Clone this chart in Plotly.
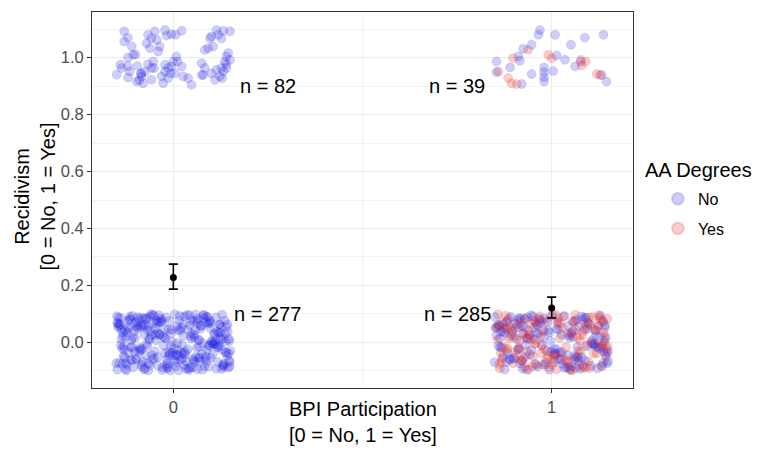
import plotly.graph_objects as go

# ---------------- data ----------------
# Top-left cluster: BPI = 0, Recidivism = 1, AA Degree = No (n = 82)
TL_X = [-0.13, -0.12, -0.13, -0.11, -0.10, -0.12, -0.14, -0.12, -0.15, -0.12,
        -0.095, -0.085, -0.09, -0.08, -0.067, -0.058, -0.053, -0.044, -0.049, -0.022,
        -0.018, -0.005, 0.006, 0.022, -0.036, -0.04, -0.062, -0.071, -0.031, -0.022,
        -0.014, -0.005, 0.008, 0.022, 0.004, 0.026, 0.039, 0.048, -0.084, -0.097,
        -0.027, -0.014, 0.075, 0.083, 0.079, 0.101, 0.11, 0.114, 0.123, 0.132,
        0.14, 0.145, 0.15, 0.14, 0.136, 0.097, 0.114, 0.127, 0.132, 0.15,
        0.105, 0.092, 0.083, 0.101, 0.119, 0.14, -0.067, -0.058, -0.051, -0.007,
        -0.022, -0.106, -0.115, -0.137, -0.075, 0.0, -0.086, 0.011, 0.075, 0.127,
        0.129, -0.058]
TL_Y = [1.092, 1.07, 1.056, 1.039, 1.01, 1.0, 0.975, 0.97, 0.94, 0.93,
        0.97, 0.945, 0.92, 0.91, 0.977, 0.963, 0.986, 1.062, 1.092, 1.097,
        1.077, 1.082, 1.08, 1.094, 1.039, 1.021, 1.033, 1.05, 0.934, 0.951,
        0.963, 0.969, 1.004, 0.969, 0.945, 0.934, 0.928, 0.904, 0.934, 0.916,
        0.91, 0.928, 0.98, 0.963, 0.939, 0.945, 0.922, 0.957, 0.934, 0.951,
        0.977, 1.016, 0.992, 0.963, 0.986, 1.068, 1.097, 1.068, 1.094, 1.092,
        1.039, 1.033, 1.027, 1.074, 1.08, 1.004, 1.08, 1.068, 0.963, 0.945,
        0.975, 1.01, 0.951, 0.963, 0.951, 0.986, 0.942, 0.986, 0.939, 0.963,
        0.928, 0.922]

# Top-right cluster: BPI = 1, Recidivism = 1 (n = 39)
TR_NO_X = [0.969, 0.965, 1.009, 1.088, 1.137, 1.051, 0.925, 0.947, 0.912, 0.916,
           0.854, 0.89, 1.013, 1.035, 1.062, 0.98, 0.98, 0.98, 0.98, 1.004,
           0.947, 0.921, 0.854, 1.132, 1.145, 1.077]
TR_NO_Y = [1.097, 1.08, 1.08, 1.07, 1.08, 1.045, 1.031, 1.045, 1.004, 0.989,
           0.986, 0.965, 1.007, 0.992, 0.969, 0.965, 0.949, 0.931, 0.916, 0.953,
           0.942, 0.907, 0.949, 0.939, 0.916, 0.986]
TR_YES_X = [0.898, 0.938, 0.991, 1.0, 1.077, 1.09, 1.079, 1.119, 1.128, 0.885,
            0.894, 0.907, 0.859]
TR_YES_Y = [0.998, 1.027, 1.01, 0.998, 0.992, 0.986, 0.972, 0.942, 0.939, 0.928,
            0.91, 0.907, 0.951]

# Bottom-left cluster: BPI = 0, Recidivism = 0, AA Degree = No (n = 277)
BL_X = [-0.142, 0.031, -0.083, 0.114, -0.021, 0.072, -0.126, 0.138, -0.052, 0.012, -0.104, 0.093, -0.034, 0.121, -0.067, 0.054, -0.133, 0.004, 0.085, -0.111,
        0.131, -0.043, 0.062, -0.092, 0.024, -0.148, 0.103, -0.013, 0.041, -0.061, 0.147, -0.118, 0.074, -0.028, 0.109, -0.081, 0.016, -0.139, 0.097, -0.049,
        0.036, -0.099, 0.124, -0.017, 0.058, -0.131, 0.081, -0.072, 0.143, -0.008, 0.049, -0.113, 0.101, -0.039, 0.022, -0.094, 0.134, -0.058, 0.002, -0.146,
        0.112, -0.031, 0.069, -0.122, 0.044, -0.079, 0.151, -0.054, 0.088, -0.137, 0.009, -0.101, 0.118, -0.024, 0.063, -0.071, 0.139, -0.107, 0.028, -0.044,
        -0.128, 0.077, -0.011, 0.127, -0.087, 0.019, -0.149, 0.094, -0.036, 0.052, -0.116, 0.142, -0.063, 0.006, -0.096, 0.107, -0.019, 0.067, -0.134, 0.039,
        0.149, -0.076, 0.027, -0.108, 0.082, -0.047, 0.117, -0.141, 0.059, -0.003, 0.136, -0.089, 0.013, -0.124, 0.098, -0.057, 0.046, -0.017, 0.129, -0.069,
        -0.033, 0.106, -0.144, 0.071, -0.006, 0.033, -0.119, 0.146, -0.064, 0.087, -0.098, 0.018, -0.041, 0.123, -0.136, 0.056, -0.077, 0.096, -0.012, 0.065,
        0.008, -0.121, 0.133, -0.046, 0.079, -0.086, 0.043, -0.151, 0.116, -0.026, 0.061, -0.109, 0.026, -0.066, 0.141, -0.002, 0.091, -0.129, 0.047, -0.084,
        0.119, -0.014, -0.097, 0.068, -0.138, 0.034, -0.059, 0.104, -0.023, 0.149, -0.074, 0.011, -0.114, 0.084, -0.048, 0.128, -0.093, 0.038, -0.145, 0.057,
        -0.007, 0.092, -0.132, 0.017, -0.062, 0.144, -0.103, 0.053, -0.029, 0.111, -0.082, 0.003, -0.125, 0.076, -0.038, 0.132, -0.068, 0.023, -0.147, 0.099,
        0.048, -0.091, 0.126, -0.016, 0.073, -0.112, 0.029, -0.056, 0.137, -0.135, 0.064, -0.001, 0.102, -0.078, 0.014, -0.117, 0.089, -0.044, 0.148, -0.027,
        -0.106, 0.037, -0.071, 0.122, -0.009, 0.081, -0.143, 0.055, -0.051, 0.113, -0.088, 0.021, -0.127, 0.069, -0.032, 0.139, -0.095, 0.007, -0.061, 0.094,
        0.126, -0.123, 0.042, -0.083, 0.108, -0.018, 0.066, -0.139, 0.015, -0.053, 0.145, -0.101, 0.032, -0.072, 0.117, -0.004, 0.078, -0.115, 0.051, -0.037,
        -0.148, 0.086, -0.022, 0.131, -0.066, 0.01, -0.109, 0.059, -0.042, 0.124, -0.084, 0.027, -0.13, 0.097, -0.012, 0.148, -0.075]
BL_Y = [0.062, -0.041, 0.087, -0.093, 0.015, 0.048, -0.072, 0.003, 0.094, -0.027, 0.039, -0.085, 0.071, -0.012, 0.056, -0.064, 0.022, 0.099, -0.049, 0.008,
        -0.078, 0.033, -0.019, 0.082, -0.056, 0.067, -0.004, 0.045, -0.097, 0.091, 0.012, -0.036, 0.059, -0.088, 0.028, -0.068, 0.076, -0.009, 0.051, -0.031,
        0.096, -0.058, 0.019, -0.081, 0.043, -0.014, 0.084, -0.046, 0.064, -0.099, 0.031, -0.061, 0.005, 0.073, -0.038, 0.089, -0.075, 0.025, -0.022, 0.054,
        -0.007, 0.079, -0.052, 0.036, -0.089, 0.061, -0.029, 0.098, -0.066, 0.011, -0.043, 0.069, -0.016, 0.047, -0.094, 0.086, -0.034, 0.018, -0.079, 0.066,
        0.041, -0.096, 0.074, -0.024, 0.057, -0.062, 0.092, -0.011, 0.029, -0.087, 0.081, -0.047, 0.014, -0.071, 0.053, -0.003, 0.088, -0.055, 0.035, -0.091,
        -0.069, 0.027, -0.037, 0.093, -0.083, 0.049, -0.018, 0.065, -0.051, 0.002, 0.077, -0.026, 0.044, -0.098, 0.068, -0.045, 0.021, -0.074, 0.097, -0.013,
        0.085, -0.006, 0.058, -0.067, 0.032, -0.092, 0.075, -0.039, 0.009, 0.091, -0.059, 0.042, -0.081, 0.063, -0.021, 0.017, -0.095, 0.072, -0.033, 0.083,
        -0.044, 0.052, -0.086, 0.007, 0.094, -0.028, 0.061, -0.073, 0.038, -0.011, 0.078, -0.063, 0.024, -0.099, 0.055, -0.035, 0.089, -0.053, 0.013, -0.077,
        0.034, -0.088, 0.071, -0.015, 0.046, -0.066, 0.099, -0.042, 0.016, -0.084, 0.062, -0.002, 0.081, -0.057, 0.027, -0.093, 0.048, -0.024, 0.087, -0.069,
        -0.012, 0.066, -0.048, 0.093, -0.079, 0.037, -0.031, 0.074, -0.097, 0.004, 0.056, -0.065, 0.019, -0.039, 0.095, -0.082, 0.043, -0.008, 0.069, -0.054,
        0.079, -0.034, 0.011, -0.091, 0.058, -0.017, 0.092, -0.061, 0.031, -0.076, 0.067, -0.045, 0.002, 0.084, -0.098, 0.049, -0.027, 0.076, -0.064, 0.021,
        -0.087, 0.045, -0.005, 0.063, -0.041, 0.097, -0.072, 0.026, -0.056, 0.088, -0.019, 0.051, -0.094, 0.009, 0.073, -0.036, 0.059, -0.083, 0.039, -0.012,
        0.054, -0.079, 0.096, -0.022, 0.033, -0.061, 0.007, 0.086, -0.048, 0.068, -0.089, 0.015, -0.032, 0.082, -0.069, 0.044, -0.003, 0.091, -0.058, 0.028,
        -0.095, 0.071, -0.037, 0.013, -0.074, 0.057, -0.015, 0.098, -0.051, 0.035, -0.085, 0.064, -0.025, 0.077, -0.046, 0.005, -0.091]

# Bottom-right cluster: BPI = 1, Recidivism = 0 (n = 285)
BR_NO_X = [0.862, 1.043, 0.917, 1.121, 0.978, 1.087, 0.881, 1.139, 0.951, 1.012, 0.896, 1.104, 0.969, 1.132, 0.928, 1.061, 0.854, 1.003, 1.079, 0.907,
           1.146, 0.957, 1.068, 0.911, 1.024, 0.871, 1.113, 0.991, 1.049, 0.936, 1.143, 0.884, 1.072, 0.963, 1.117, 0.922, 1.016, 0.859, 1.095, 0.947,
           1.034, 0.899, 1.128, 0.983, 1.056, 0.868, 1.083, 0.931, 1.141, 0.994, 1.052, 0.889, 1.107, 0.958, 1.021, 0.914, 1.136, 0.941, 1.006, 0.852,
           1.114, 0.972, 1.067, 0.876, 1.046, 0.924, 1.149, 0.946, 1.088, 0.863, 1.011, 0.903, 1.124, 0.977, 1.064, 0.928, 1.137, 0.892, 1.029, 0.961,
           0.871, 1.076, 0.989, 1.127, 0.913, 1.019, 0.851, 1.094, 0.964, 1.053, 0.884, 1.142, 0.937, 1.007, 0.904, 1.108, 0.981, 1.068, 0.866, 1.039,
           1.149, 0.924, 1.027, 0.892, 1.082, 0.953, 1.117, 0.859, 1.059, 0.997, 1.136, 0.911, 1.013, 0.876, 1.098, 0.943, 1.046, 0.983, 1.129, 0.931,
           0.967, 1.106, 0.856, 1.071, 0.994, 1.033, 0.881, 1.146, 0.936, 1.087, 0.902, 1.018, 0.959, 1.123, 0.864, 1.056, 0.923, 1.096, 0.988, 1.065,
           1.008, 0.879, 1.133, 0.954, 1.079, 0.914, 1.043, 0.849, 1.116, 0.974, 1.061, 0.891, 1.026, 0.934, 1.141, 0.998, 1.091, 0.871, 1.047, 0.916]
BR_NO_Y = [0.058, -0.044, 0.083, -0.091, 0.018, 0.046, -0.069, 0.006, 0.091, -0.023, 0.037, -0.082, 0.068, -0.015, 0.053, -0.061, 0.025, 0.096, -0.052, 0.011,
           -0.074, 0.031, -0.016, 0.079, -0.059, 0.064, -0.007, 0.042, -0.094, 0.088, 0.015, -0.039, 0.056, -0.085, 0.025, -0.065, 0.073, -0.012, 0.048, -0.028,
           0.093, -0.055, 0.022, -0.078, 0.04, -0.017, 0.081, -0.049, 0.061, -0.096, 0.034, -0.058, 0.008, 0.07, -0.035, 0.086, -0.072, 0.028, -0.025, 0.051,
           -0.004, 0.076, -0.049, 0.033, -0.086, 0.058, -0.032, 0.095, -0.063, 0.014, -0.04, 0.066, -0.019, 0.044, -0.091, 0.083, -0.031, 0.021, -0.076, 0.063,
           0.038, -0.093, 0.071, -0.021, 0.054, -0.059, 0.089, -0.014, 0.032, -0.084, 0.078, -0.044, 0.017, -0.068, 0.05, -0.006, 0.085, -0.052, 0.038, -0.088,
           -0.066, 0.03, -0.034, 0.09, -0.08, 0.052, -0.015, 0.062, -0.048, 0.005, 0.074, -0.023, 0.047, -0.095, 0.065, -0.042, 0.024, -0.071, 0.094, -0.01,
           0.082, -0.003, 0.055, -0.064, 0.035, -0.089, 0.072, -0.036, 0.012, 0.088, -0.056, 0.045, -0.078, 0.06, -0.018, 0.02, -0.092, 0.069, -0.03, 0.08,
           -0.041, 0.049, -0.083, 0.01, 0.091, -0.025, 0.058, -0.07, 0.041, -0.008, 0.075, -0.06, 0.027, -0.096, 0.052, -0.032, 0.086, -0.05, 0.016, -0.074]
BR_YES_X = [0.921, 1.058, 0.874, 1.112, 0.993, 1.031, 0.857, 1.144, 0.948, 1.076, 0.896, 1.013, 0.966, 1.126, 0.883, 1.041, 0.932, 1.099, 1.004, 0.861,
            1.138, 0.976, 1.062, 0.909, 1.022, 0.869, 1.104, 0.952, 1.084, 0.938, 1.148, 0.887, 1.036, 0.971, 1.119, 0.917, 1.054, 0.853, 1.092, 0.998,
            1.009, 0.902, 1.131, 0.962, 1.071, 0.878, 1.044, 0.926, 1.139, 0.985, 1.063, 0.894, 1.101, 0.944, 1.017, 0.865, 1.123, 0.956, 1.081, 0.913,
            0.871, 1.089, 0.979, 1.134, 0.908, 1.026, 0.858, 1.097, 0.942, 1.049, 0.889, 1.145, 0.929, 1.004, 0.916, 1.111, 0.968, 1.073, 0.875, 1.038,
            1.127, 0.935, 1.021, 0.898, 1.086, 0.957, 1.118, 0.863, 1.055, 0.991, 1.141, 0.919, 1.012, 0.882, 1.093, 0.949, 1.042, 0.974, 1.131, 0.926,
            0.972, 1.109, 0.861, 1.068, 0.987, 1.029, 0.884, 1.147, 0.939, 1.082, 0.906, 1.015, 0.955, 1.124, 0.867, 1.053, 0.928, 1.102, 0.981, 1.064,
            1.001, 0.886, 1.135, 0.951, 1.075]
BR_YES_Y = [-0.063, 0.072, -0.018, 0.044, -0.087, 0.091, 0.009, -0.051, 0.064, -0.033, 0.028, -0.094, 0.081, -0.007, 0.049, -0.071, 0.016, 0.088, -0.042, 0.059,
            0.035, -0.079, 0.097, -0.026, 0.067, -0.056, 0.003, 0.078, -0.089, 0.041, -0.014, 0.085, -0.061, 0.022, -0.038, 0.069, -0.098, 0.052, -0.01, 0.093,
            -0.047, 0.019, -0.083, 0.061, -0.029, 0.094, -0.066, 0.033, -0.004, 0.076, -0.053, 0.045, -0.091, 0.012, 0.084, -0.036, 0.057, -0.075, 0.026, -0.019,
            0.071, -0.088, 0.039, -0.011, 0.063, -0.045, 0.098, -0.068, 0.024, -0.097, 0.054, -0.023, 0.082, -0.059, 0.007, -0.039, 0.092, -0.081, 0.047, -0.016,
            0.087, -0.031, 0.015, -0.073, 0.066, -0.002, 0.043, -0.092, 0.074, -0.048, 0.021, -0.064, 0.096, -0.028, 0.058, -0.084, 0.031, -0.012, 0.079, -0.055,
            -0.037, 0.089, -0.076, 0.018, -0.058, 0.051, -0.021, 0.083, -0.095, 0.037, -0.043, 0.065, -0.006, 0.095, -0.069, 0.029, -0.086, 0.062, -0.025, 0.046,
            -0.078, 0.013, 0.073, -0.049, 0.006]

# Group means with error bars
BPI_GROUPS = [0, 1]
MEAN_RECID = [0.228, 0.121]
ERR_UPPER = [0.047, 0.038]
ERR_LOWER = [0.041, 0.035]

# Count labels
N_LABEL_X = [0.25, 0.75, 0.25, 0.75]
N_LABEL_Y = [0.9, 0.9, 0.1, 0.1]
N_LABELS = ["n = 82", "n = 39", "n = 277", "n = 285"]

# ---------------- figure ----------------
FONT = "Liberation Sans, Arial, Helvetica, sans-serif"
BLUE = "rgba(30,30,230,0.22)"
BLUE_LINE = "rgba(30,30,200,0.16)"
RED = "rgba(225,45,40,0.24)"
RED_LINE = "rgba(200,40,40,0.16)"
MS = 9

fig = go.Figure()

no_x = TL_X + BL_X + TR_NO_X + BR_NO_X
no_y = TL_Y + BL_Y + TR_NO_Y + BR_NO_Y
fig.add_trace(go.Scatter(
    x=no_x, y=no_y, mode="markers", name="No", legendgroup="no",
    marker=dict(size=MS, color=BLUE, line=dict(width=0.8, color=BLUE_LINE)),
))
fig.add_trace(go.Scatter(
    x=TR_YES_X + BR_YES_X, y=TR_YES_Y + BR_YES_Y, mode="markers", name="Yes", legendgroup="yes",
    marker=dict(size=MS, color=RED, line=dict(width=0.8, color=RED_LINE)),
))
fig.add_trace(go.Scatter(
    x=BPI_GROUPS, y=MEAN_RECID, mode="markers", showlegend=False,
    marker=dict(size=7, color="black"),
    error_y=dict(type="data", symmetric=False, array=ERR_UPPER, arrayminus=ERR_LOWER,
                 color="black", thickness=1.6, width=4.5),
))

for tx, ty, tt in zip(N_LABEL_X, N_LABEL_Y, N_LABELS):
    fig.add_annotation(x=tx, y=ty, text=tt, showarrow=False,
                       font=dict(family=FONT, size=20, color="black"))

# axis titles
fig.add_annotation(x=0.5, y=-0.09, xref="paper", yref="paper", yanchor="middle",
                   text="BPI Participation<br>[0 = No, 1 = Yes]", showarrow=False,
                   font=dict(family=FONT, size=20, color="black"))
fig.add_annotation(x=-0.105, y=0.51, xref="paper", yref="paper", xanchor="center",
                   text="Recidivism<br>[0 = No, 1 = Yes]", showarrow=False, textangle=-90,
                   font=dict(family=FONT, size=20, color="black"))
# legend title
fig.add_annotation(x=1.0185, y=0.58, xref="paper", yref="paper", xanchor="left", yanchor="middle",
                   text="AA Degrees", showarrow=False,
                   font=dict(family=FONT, size=20, color="black"))

axis_common = dict(
    showline=True, mirror=True, linecolor="#333333", linewidth=1,
    ticks="outside", ticklen=4, tickcolor="#333333", tickwidth=1,
    gridcolor="#ebebeb", gridwidth=1.1, zeroline=False,
    tickfont=dict(family=FONT, size=16.5, color="#4d4d4d"),
)
fig.update_xaxes(range=[-0.215, 1.215], tickvals=[0, 1], ticktext=["0", "1"],
                 minor=dict(tickvals=[0.5], showgrid=True, gridcolor="#f3f3f3", gridwidth=0.6, ticks=""),
                 **axis_common)
fig.update_yaxes(range=[-0.16, 1.16], tickvals=[0, 0.2, 0.4, 0.6, 0.8, 1.0],
                 ticktext=["0.0", "0.2", "0.4", "0.6", "0.8", "1.0"],
                 minor=dict(tickvals=[-0.1, 0.1, 0.3, 0.5, 0.7, 0.9, 1.1], showgrid=True,
                            gridcolor="#f3f3f3", gridwidth=0.6, ticks=""),
                 **axis_common)

fig.update_layout(
    width=763, height=448,
    margin=dict(l=84, r=138, t=4, b=68),
    paper_bgcolor="white", plot_bgcolor="white",
    font=dict(family=FONT),
    legend=dict(
        font=dict(family=FONT, size=16, color="black"),
        x=1.046, xanchor="left", y=0.463, yanchor="middle",
        itemsizing="constant", tracegroupgap=6,
    ),
)

fig.write_html("out.html")
